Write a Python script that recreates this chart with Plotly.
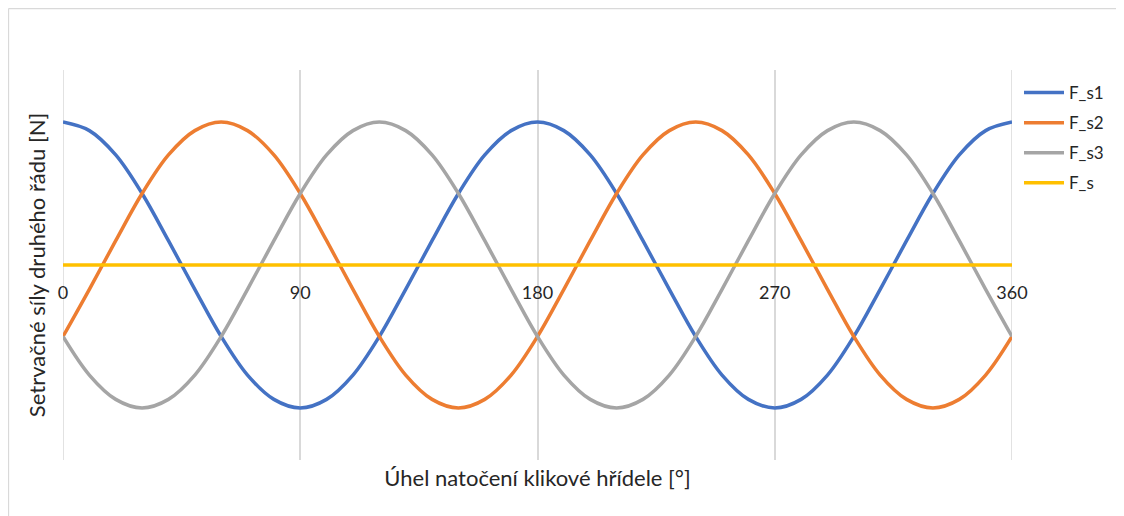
import plotly.graph_objects as go

angle_deg = list(range(0, 361, 10))

half_s1 = [1, 0.94, 0.77, 0.5, 0.17, -0.17, -0.5, -0.77, -0.94, -1,
           -0.94, -0.77, -0.5, -0.17, 0.17, 0.5, 0.77, 0.94]
half_s2 = [-0.5, -0.17, 0.17, 0.5, 0.77, 0.94, 1, 0.94, 0.77, 0.5,
           0.17, -0.17, -0.5, -0.77, -0.94, -1, -0.94, -0.77]
half_s3 = [-0.5, -0.77, -0.94, -1, -0.94, -0.77, -0.5, -0.17, 0.17, 0.5,
           0.77, 0.94, 1, 0.94, 0.77, 0.5, 0.17, -0.17]

F_s1 = half_s1 + half_s1 + [1]
F_s2 = half_s2 + half_s2 + [-0.5]
F_s3 = half_s3 + half_s3 + [-0.5]
F_s = [0] * 37

series_names = ["F_s1", "F_s2", "F_s3", "F_s"]
series_values = [F_s1, F_s2, F_s3, F_s]
colors = ["#4472C4", "#ED7D31", "#A5A5A5", "#FFC000"]

x_ticks = [0, 90, 180, 270, 360]
x_title = "Úhel natočení klikové hřídele [°]"
y_title = "Setrvačné síly druhého řádu [N]"

FONT = "Lato, Calibri, Carlito, sans-serif"
GRID = "#D9D9D9"

# page has an 8px body margin, so the figure is placed at (8, 8)
W, H = 1116, 508
ML, MR, MT, MB = 55, 112, 62, 56
pw, ph = W - ML - MR, H - MT - MB

fig = go.Figure()
for name, vals, col in zip(series_names, series_values, colors):
    fig.add_trace(go.Scatter(
        x=angle_deg, y=vals, mode="lines", name=name, legendgroup=name,
        line=dict(color=col, width=3.5, shape="spline"),
    ))

# invisible trace hosting the tick labels on the free (centre) axis
fig.add_trace(go.Scatter(x=[0, 360], y=[0, 0], xaxis="x2", mode="lines",
                         line=dict(width=0), showlegend=False, hoverinfo="skip"))

def px_to_paper_x(px):
    return (px - ML) / pw

def px_to_paper_y(py):
    return (H - MB - py) / ph

# plotly omits gridlines at the plot edges; draw those two explicitly
edge_lines = [dict(type="line", xref="x", yref="paper", x0=t, x1=t, y0=0, y1=1,
                   line=dict(color=GRID, width=1.5), layer="below")
              for t in (x_ticks[0], x_ticks[-1])]

# chart-area frame: only its top and left edges fall inside the page
frame = [
    dict(type="line", xref="paper", yref="paper",
         x0=px_to_paper_x(0.5), x1=px_to_paper_x(W),
         y0=px_to_paper_y(0.5), y1=px_to_paper_y(0.5),
         line=dict(color=GRID, width=1.3), layer="below"),
    dict(type="line", xref="paper", yref="paper",
         x0=px_to_paper_x(0.5), x1=px_to_paper_x(0.5),
         y0=px_to_paper_y(H), y1=px_to_paper_y(0.5),
         line=dict(color=GRID, width=1.3), layer="below"),
]

fig.update_layout(
    width=W, height=H,
    margin=dict(l=ML, r=MR, t=MT, b=MB, autoexpand=False),
    paper_bgcolor="white", plot_bgcolor="white",
    font=dict(family=FONT, color="#404040", size=18),
    xaxis=dict(
        range=[0, 360], tickvals=x_ticks, showticklabels=False,
        showgrid=True, gridcolor=GRID, gridwidth=1.5,
        zeroline=False, showline=False, ticks="",
        title=dict(text=x_title, font=dict(size=22, color="#262626"), standoff=10),
    ),
    xaxis2=dict(
        range=[0, 360], overlaying="x", anchor="free", position=0.5, side="bottom",
        tickvals=x_ticks, ticktext=[str(t) for t in x_ticks],
        tickfont=dict(size=18, color="#262626"),
        showgrid=False, zeroline=False, showline=False, ticks="",
        ticklabelstandoff=15,
    ),
    yaxis=dict(
        range=[-1.364, 1.364], showticklabels=False, showgrid=False,
        zeroline=False, showline=False, ticks="",
        title=dict(text=y_title, font=dict(size=22, color="#262626"), standoff=10),
    ),
    legend=dict(
        x=px_to_paper_x(1011), y=px_to_paper_y(67), xanchor="left", yanchor="top",
        font=dict(size=17, color="#262626"), bgcolor="rgba(0,0,0,0)",
        itemwidth=40, tracegroupgap=5,
    ),
    showlegend=True,
    shapes=frame + edge_lines,
)

fig.write_html("out.html")
